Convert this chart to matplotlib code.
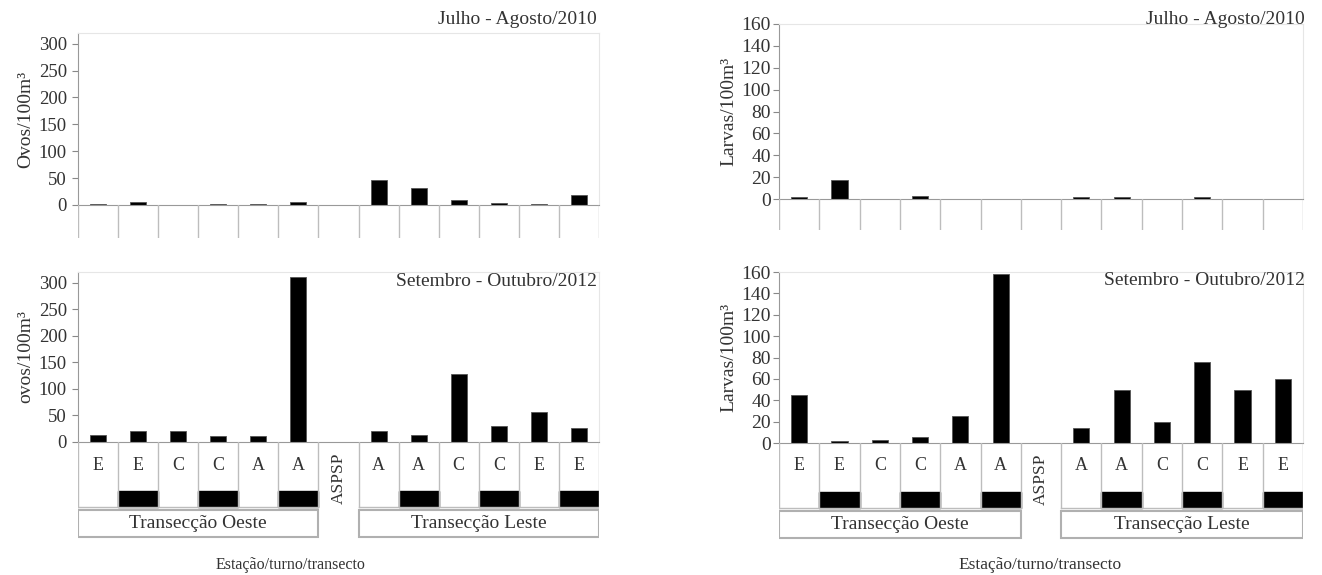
import matplotlib
matplotlib.use("Agg")
import matplotlib.pyplot as plt
from matplotlib.patches import Rectangle

plt.rcParams['font.family'] = ['Liberation Serif', 'DejaVu Serif']

# categories (estação / turno), ASPSP in the middle
estacoes = ["E", "E", "C", "C", "A", "A", "ASPSP", "A", "A", "C", "C", "E", "E"]
noite = [0, 1, 0, 1, 0, 1, 0, 0, 1, 0, 1, 0, 1]
transectos = ["Transecção Oeste", "Transecção Leste"]

ovos_2010 = [2, 5, 0, 2, 2, 5, 0, 47, 32, 10, 4, 2, 19]
ovos_2012 = [14, 21, 20, 11, 11, 311, 0, 21, 13, 128, 30, 56, 27]
larvas_2010 = [2, 17, 0, 3, 0, 0, 0, 2, 2, 0, 2, 0, 0]
larvas_2012 = [45, 1.5, 3, 6, 25, 158, 0, 14, 50, 20, 76, 50, 60]

W, H = 1322, 575
TXT = "#333333"
GRID = "#bdbdbd"


def px(x0, y0, x1, y1):
    return [x0 / W, 1 - y1 / H, (x1 - x0) / W, (y1 - y0) / H]


fig = plt.figure(figsize=(W / 100, H / 100), dpi=100)


def bars(box, vals, ymax, yticks, ylabel, title, title_xy, fs, pad):
    ax = fig.add_axes(px(*box))
    n = len(vals)
    ax.bar(range(n), vals, width=0.4, color="black", edgecolor="#555555", linewidth=0.6)
    ax.set_xlim(-0.5, n - 0.5)
    ax.set_ylim(0, ymax)
    ax.set_yticks(yticks)
    ax.tick_params(axis='y', labelsize=fs, colors=TXT, length=4, color="#888888", pad=pad)
    ax.set_xticks([])
    for s in ["top", "right"]:
        ax.spines[s].set_color("#e6e6e6")
    for s in ["left", "bottom"]:
        ax.spines[s].set_color("#999999")
    ax.set_ylabel(ylabel, fontsize=14, color=TXT, labelpad=3)
    fig.text(title_xy[0] / W, 1 - title_xy[1] / H, title, ha="right", va="center",
             fontsize=14, color=TXT)
    return ax


def blank_below(x0, x1, y0, h):
    ax = fig.add_axes(px(x0, y0, x1, y0 + h))
    ax.set_xlim(-0.5, len(estacoes) - 0.5)
    ax.set_ylim(h, 0)
    ax.axis("off")
    for k in range(len(estacoes) + 1):
        ax.plot([k - 0.5, k - 0.5], [0, h], color=GRID, lw=1)


def table_below(x0, x1, y0):
    h = 100
    ax = fig.add_axes(px(x0, y0, x1, y0 + h))
    n = len(estacoes)
    ax.set_xlim(-0.5, n - 0.5)
    ax.set_ylim(h, 0)
    ax.axis("off")
    row_b, band = 65, 16
    for k in range(n + 1):
        ax.plot([k - 0.5, k - 0.5], [0, row_b], color=GRID, lw=1)
    for i, lab in enumerate(estacoes):
        if lab == "ASPSP":
            ax.text(i, 36, lab, rotation=90, ha="center", va="center",
                    fontsize=12.5, color=TXT)
            continue
        ax.text(i, 23, lab, ha="center", va="center", fontsize=13, color=TXT)
        if noite[i]:
            ax.add_patch(Rectangle((i - 0.5, row_b - band), 1, band, color="black"))
    for a, b, lab in [(-0.5, 5.5, transectos[0]), (6.5, n - 0.5, transectos[1])]:
        ax.plot([a, b], [row_b, row_b], color=GRID, lw=1)
        ax.add_patch(Rectangle((a, 68), b - a, 27, facecolor="white",
                               edgecolor="#b0b0b0", lw=1.5))
        ax.text((a + b) / 2, 81.5, lab, ha="center", va="center", fontsize=14,
                color=TXT)


# left column: ovos
bars((78, 33, 599, 205), ovos_2010, 320, range(0, 301, 50), "Ovos/100m³",
     "Julho - Agosto/2010", (597, 20), 13.5, 4)
blank_below(78, 599, 205, 33)
bars((78, 272, 599, 442), ovos_2012, 320, range(0, 301, 50), "ovos/100m³",
     "Setembro - Outubro/2012", (597, 282), 13.5, 4)
table_below(78, 599, 442)
fig.text(291 / W, 1 - 565 / H, "Estação/turno/transecto", ha="center", va="center",
         fontsize=11.5, color=TXT)

# right column: larvas
bars((779, 24, 1303, 199), larvas_2010, 160, range(0, 161, 20), "Larvas/100m³",
     "Julho - Agosto/2010", (1305, 19), 14, 2)
blank_below(779, 1303, 199, 31)
bars((779, 272, 1303, 443), larvas_2012, 160, range(0, 161, 20), "Larvas/100m³",
     "Setembro - Outubro/2012", (1305, 280), 14, 2)
table_below(779, 1303, 443)
fig.text(1040 / W, 1 - 565 / H, "Estação/turno/transecto", ha="center", va="center",
         fontsize=12.5, color=TXT)

fig.savefig("out.png", dpi=100)
